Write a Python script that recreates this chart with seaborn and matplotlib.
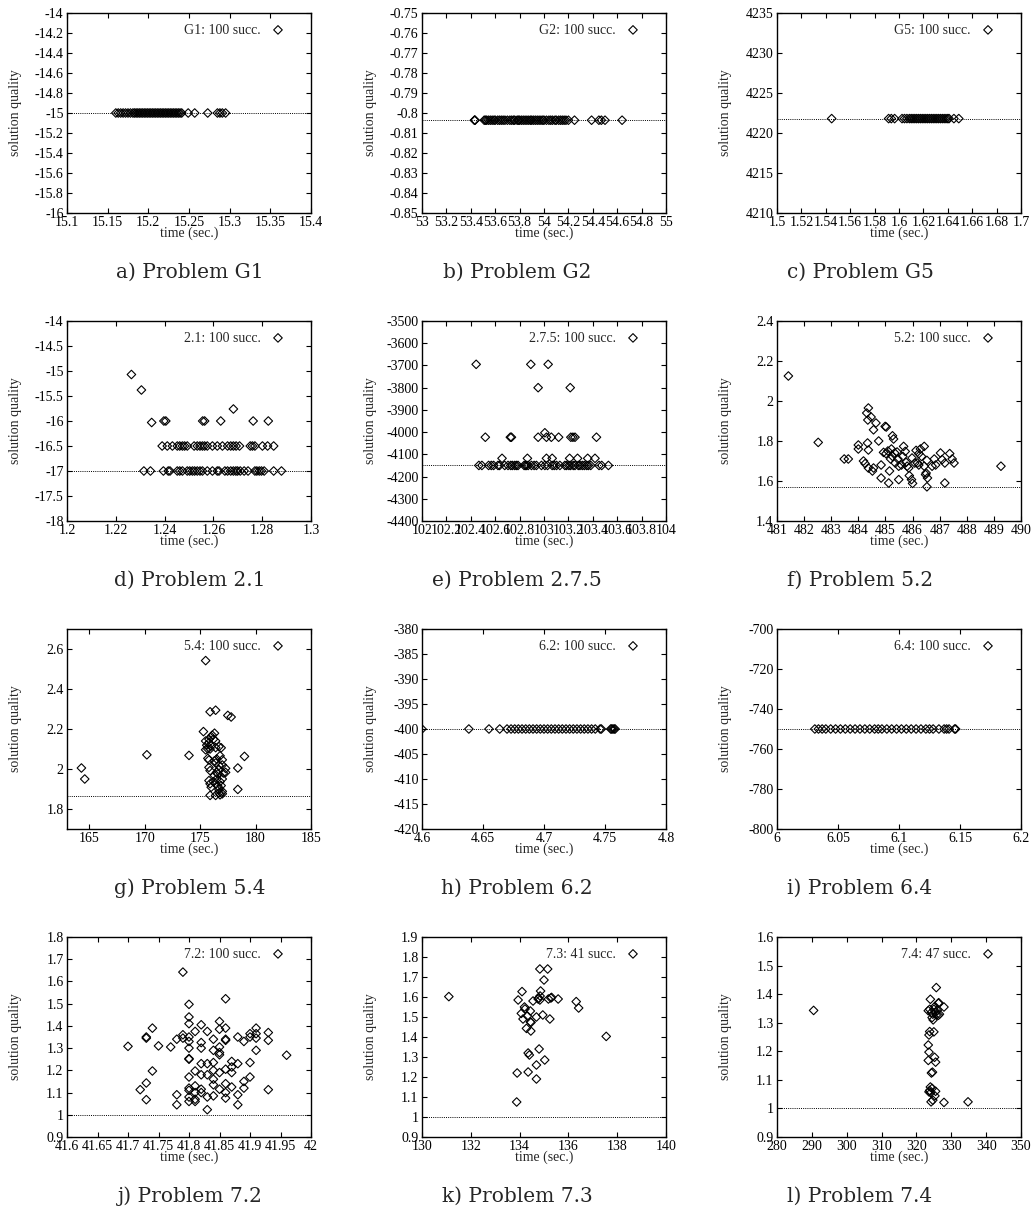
import numpy as np
import matplotlib
matplotlib.use('Agg')
import matplotlib.pyplot as plt
from matplotlib.ticker import FuncFormatter, MultipleLocator
import seaborn as sns

# ---------------- data ----------------
# a) G1 - all runs reach the optimum -15
G1_OPT = -15.0
G1_X = [15.160, 15.163, 15.166, 15.169, 15.172, 15.175, 15.178, 15.181, 15.183,
        15.185, 15.187, 15.189, 15.191, 15.193, 15.195, 15.197, 15.199, 15.201,
        15.203, 15.205, 15.207, 15.209, 15.211, 15.213, 15.215, 15.217, 15.219,
        15.221, 15.223, 15.225, 15.227, 15.229, 15.231, 15.233, 15.235, 15.237,
        15.239, 15.241, 15.249, 15.257, 15.273, 15.285, 15.288, 15.291, 15.295]

# b) G2
G2_OPT = -0.8036
G2_X = [53.430, 53.432, 53.435, 53.51, 53.52, 53.53, 53.545, 53.56, 53.575, 53.59,
        53.60, 53.62, 53.635, 53.65, 53.665, 53.68, 53.70, 53.72, 53.735, 53.75,
        53.76, 53.78, 53.79, 53.80, 53.815, 53.83, 53.845, 53.86, 53.875, 53.89,
        53.90, 53.915, 53.93, 53.945, 53.96, 53.975, 53.99, 54.00, 54.02, 54.04,
        54.055, 54.07, 54.09, 54.10, 54.12, 54.135, 54.15, 54.165, 54.18, 54.20,
        54.25, 54.39, 54.45, 54.47, 54.50, 54.64]

# c) G5
G5_OPT = 4221.8
G5_X = [1.5448, 1.5915, 1.5937, 1.5964, 1.6025, 1.6045, 1.6065, 1.6085, 1.6100,
        1.6115, 1.6130, 1.6145, 1.6160, 1.6175, 1.6190, 1.6205, 1.6220, 1.6235,
        1.6250, 1.6265, 1.6280, 1.6295, 1.6310, 1.6325, 1.6340, 1.6355, 1.6370,
        1.6385, 1.6400, 1.6410, 1.6450, 1.6490]

# d) 2.1
P21_OPT = -17.0
P21_X = [1.2264, 1.2305, 1.2347, 1.2397, 1.2405, 1.2556, 1.2564, 1.2630, 1.2682,
         1.2763, 1.2825,
         1.2390, 1.2411, 1.2432, 1.2452, 1.2462, 1.2473, 1.2482, 1.2493, 1.2521,
         1.2534, 1.2545, 1.2555, 1.2564, 1.2575, 1.2596, 1.2616, 1.2637, 1.2658,
         1.2671, 1.2682, 1.2693, 1.2707, 1.2751, 1.2760, 1.2770, 1.2801, 1.2822,
         1.2847,
         1.2315, 1.2342, 1.2395, 1.2415, 1.2422, 1.2452, 1.2462, 1.2473, 1.2493,
         1.2503, 1.2514, 1.2523, 1.2534, 1.2545, 1.2555, 1.2575, 1.2596, 1.2616,
         1.2623, 1.2647, 1.2658, 1.2671, 1.2682, 1.2692, 1.2699, 1.2710, 1.2726,
         1.2742, 1.2770, 1.2778, 1.2788, 1.2797, 1.2808, 1.2847, 1.2879]
P21_Y = [-15.07, -15.38, -16.03, -16.0, -16.0, -16.0, -16.0, -16.0, -15.76,
         -16.0, -16.0] + [-16.5] * 28 + [-17.0] * 35

# e) 2.7.5
P275_OPT = -4150.0
P275_X = [102.444, 102.892, 103.034, 102.952, 103.215,
          102.519, 102.724, 102.733, 102.952, 103.007, 103.020, 103.060, 103.120,
          103.220, 103.237, 103.254, 103.430,
          102.656, 102.864, 103.020, 103.067, 103.210, 103.275, 103.358, 103.418,
          102.466, 102.491, 102.546, 102.568, 102.587, 102.623, 102.636, 102.678,
          102.705, 102.727, 102.741, 102.760, 102.774, 102.787, 102.837, 102.848,
          102.856, 102.870, 102.897, 102.919, 102.938, 102.979, 103.007, 103.029,
          103.067, 103.084, 103.103, 103.130, 103.171, 103.185, 103.204, 103.218,
          103.240, 103.254, 103.281, 103.295, 103.314, 103.331, 103.350, 103.364,
          103.383, 103.451, 103.473, 103.528]
P275_Y = ([-3695, -3695, -3695, -3800, -3800] +
          [-4023, -4023, -4023, -4023, -4003, -4023, -4023, -4023, -4023, -4023,
           -4023, -4023] +
          [-4118] * 8 + [-4150] * 44)

# f) 5.2
P52_OPT = 1.571
P52_X = [481.42, 482.52, 483.48, 483.63, 484.00, 484.00, 484.31, 484.37, 484.35,
         484.47, 484.34, 484.37, 484.19, 484.25, 484.37, 484.52, 484.56, 484.56,
         484.65, 484.75, 484.84, 484.84, 484.99, 485.03, 484.93, 485.02, 485.09,
         485.12, 485.15, 485.19, 485.22, 485.26, 485.30, 485.26, 485.34, 485.36,
         485.43, 485.46, 485.49, 485.49, 485.59, 485.64, 485.67, 485.73, 485.76,
         485.80, 485.86, 485.88, 485.96, 486.00, 485.98, 486.08, 486.13, 486.18,
         486.23, 486.23, 486.29, 486.33, 486.43, 486.43, 486.48, 486.50, 486.55,
         486.53, 486.53, 486.72, 486.80, 486.85, 487.03, 487.09, 487.19, 487.19,
         487.37, 487.46, 487.53, 489.26]
P52_Y = [2.125, 1.793, 1.710, 1.710, 1.780, 1.760, 1.940, 1.965, 1.905,
         1.920, 1.790, 1.755, 1.700, 1.687, 1.665, 1.650, 1.665, 1.856,
         1.890, 1.800, 1.680, 1.615, 1.873, 1.870, 1.743, 1.737, 1.750,
         1.590, 1.650, 1.710, 1.760, 1.826, 1.810, 1.723, 1.740, 1.690,
         1.745, 1.710, 1.674, 1.607, 1.680, 1.723, 1.773, 1.748, 1.693,
         1.674, 1.665, 1.627, 1.607, 1.588, 1.715, 1.690, 1.753, 1.690,
         1.680, 1.737, 1.760, 1.723, 1.773, 1.674, 1.632, 1.640, 1.615,
         1.571, 1.703, 1.674, 1.710, 1.680, 1.740, 1.707, 1.690, 1.590,
         1.737, 1.710, 1.690, 1.674]

# g) 5.4
P54_OPT = 1.8634
P54_X = [164.3, 164.6, 170.2, 174.0, 175.5, 175.3, 175.9, 176.4, 177.5, 177.8,
         176.3, 178.4, 178.4, 179.0,
         175.5, 175.6, 175.5, 175.7, 175.8, 175.8, 176.0, 176.1, 176.2, 176.0,
         175.9, 176.4, 176.4, 176.7, 176.9, 175.7, 175.8, 175.8, 175.9, 176.3,
         176.4, 176.5, 176.7, 176.7, 176.6, 176.8, 177.0, 177.0, 177.1, 177.3,
         177.3, 175.8, 175.9, 176.0, 176.2, 176.4, 176.5, 176.6, 176.7, 176.8,
         176.9, 177.0, 177.0, 176.7, 176.4, 175.9, 176.8, 177.0, 176.3, 176.5]
P54_Y = [2.005, 1.950, 2.071, 2.068, 2.542, 2.187, 2.286, 2.294, 2.268, 2.260,
         2.179, 2.005, 1.898, 2.063,
         2.140, 2.119, 2.096, 2.100, 2.132, 2.149, 2.162, 2.169, 2.149, 2.116,
         2.100, 2.140, 2.107, 2.112, 2.106, 2.053, 2.045, 2.008, 1.992, 2.041,
         2.030, 2.050, 2.017, 1.997, 1.975, 2.066, 2.046, 2.020, 1.980, 2.003,
         1.983, 1.942, 1.926, 1.909, 1.937, 1.926, 1.950, 1.914, 1.897, 1.937,
         1.917, 1.888, 1.876, 1.881, 1.868, 1.868, 1.871, 1.950, 1.967, 1.983]

# h) 6.2
P62_OPT = -400.0
P62_X = [4.600, 4.6384, 4.6549, 4.6637, 4.6697, 4.673, 4.676, 4.679, 4.682,
         4.685, 4.688, 4.691, 4.694, 4.697, 4.700, 4.703, 4.706, 4.709, 4.712,
         4.715, 4.718, 4.721, 4.724, 4.727, 4.730, 4.733, 4.736, 4.739, 4.742,
         4.746, 4.747, 4.7547, 4.7555, 4.7565, 4.7575, 4.7583]

# i) 6.4
P64_OPT = -750.0
P64_X = [6.031, 6.034, 6.037, 6.040, 6.044, 6.048, 6.052, 6.056, 6.060, 6.064,
         6.068, 6.072, 6.076, 6.080, 6.083, 6.086, 6.090, 6.094, 6.098, 6.102,
         6.106, 6.110, 6.114, 6.118, 6.122, 6.125, 6.128, 6.1327, 6.137, 6.139,
         6.141, 6.1456, 6.1464]

# j) 7.2
P72_OPT = 1.0
P72_X = [41.70, 41.72, 41.73, 41.73, 41.73, 41.73, 41.74, 41.74, 41.75, 41.77,
         41.78, 41.78, 41.78, 41.79, 41.79, 41.79,
         41.80, 41.80, 41.80, 41.80, 41.80, 41.80, 41.80, 41.80, 41.80, 41.80,
         41.80, 41.80, 41.80,
         41.81, 41.81, 41.81, 41.81, 41.81, 41.81,
         41.82, 41.82, 41.82, 41.82, 41.82, 41.82, 41.82,
         41.83, 41.83, 41.83, 41.83, 41.83,
         41.84, 41.84, 41.84, 41.84, 41.84, 41.84, 41.84,
         41.85, 41.85, 41.85, 41.85, 41.85, 41.85, 41.85,
         41.86, 41.86, 41.86, 41.86, 41.86, 41.86, 41.86, 41.86,
         41.87, 41.87, 41.87, 41.87,
         41.88, 41.88, 41.88, 41.88,
         41.89, 41.89, 41.89,
         41.90, 41.90, 41.90, 41.90,
         41.91, 41.91, 41.91, 41.91,
         41.93, 41.93, 41.93, 41.96]
P72_Y = [1.308, 1.113, 1.350, 1.345, 1.143, 1.068, 1.390, 1.197, 1.310, 1.305,
         1.340, 1.090, 1.045, 1.642, 1.360, 1.345,
         1.497, 1.440, 1.410, 1.350, 1.330, 1.300, 1.253, 1.250, 1.170, 1.120,
         1.110, 1.080, 1.060,
         1.375, 1.197, 1.130, 1.100, 1.070, 1.060,
         1.405, 1.325, 1.300, 1.230, 1.180, 1.115, 1.100,
         1.375, 1.230, 1.180, 1.080, 1.023,
         1.340, 1.290, 1.235, 1.200, 1.160, 1.135, 1.085,
         1.420, 1.385, 1.305, 1.280, 1.270, 1.190, 1.115,
         1.522, 1.390, 1.340, 1.335, 1.205, 1.140, 1.100, 1.075,
         1.240, 1.215, 1.190, 1.125,
         1.350, 1.230, 1.090, 1.045,
         1.330, 1.150, 1.120,
         1.365, 1.350, 1.235, 1.170,
         1.390, 1.365, 1.345, 1.290,
         1.370, 1.335, 1.113, 1.268]

# k) 7.3
P73_OPT = 1.0
P73_X = [131.10, 133.88, 133.90, 133.94, 134.10, 134.07, 134.20, 134.22, 134.14,
         134.28, 134.32, 134.35, 134.35, 134.40, 134.44, 134.44, 134.47, 134.46,
         134.55, 134.69, 134.69, 134.69, 134.80, 134.83, 134.76, 134.78, 134.83,
         134.84, 134.86, 134.95, 135.00, 135.03, 135.15, 135.18, 135.24, 135.28,
         135.31, 135.58, 136.32, 136.42, 137.55]
P73_Y = [1.602, 1.075, 1.220, 1.585, 1.627, 1.518, 1.550, 1.540, 1.490,
         1.443, 1.505, 1.225, 1.320, 1.310, 1.530, 1.475, 1.473, 1.430,
         1.580, 1.500, 1.260, 1.190, 1.340, 1.740, 1.590, 1.595, 1.585,
         1.605, 1.630, 1.510, 1.685, 1.285, 1.740, 1.590, 1.490, 1.595,
         1.598, 1.590, 1.577, 1.545, 1.403]

# l) 7.4
P74_OPT = 1.0
P74_X = [290.5, 323.4, 323.6, 323.4, 323.6, 323.8, 323.4, 323.8, 324.0, 324.3,
         324.7, 325.0, 325.3, 324.5, 324.8, 325.5, 325.7, 326.0, 326.3, 326.4,
         326.3, 326.6, 327.9, 325.7, 325.0, 325.2, 325.5, 324.3, 324.6, 324.0,
         323.8, 324.1, 325.5, 325.3, 324.2, 324.7, 327.9, 334.8, 323.6, 324.5]
P74_Y = [1.343, 1.222, 1.197, 1.168, 1.257, 1.269, 1.342, 1.347, 1.382, 1.336,
         1.330, 1.347, 1.357, 1.318, 1.310, 1.336, 1.327, 1.344, 1.368, 1.370,
         1.326, 1.330, 1.355, 1.423, 1.268, 1.179, 1.162, 1.124, 1.127, 1.075,
         1.063, 1.055, 1.060, 1.044, 1.023, 1.029, 1.021, 1.023, 1.058, 1.070]

KEYS = ['G1: 100 succ.', 'G2: 100 succ.', 'G5: 100 succ.',
        '2.1: 100 succ.', '2.7.5: 100 succ.', '5.2: 100 succ.',
        '5.4: 100 succ.', '6.2: 100 succ.', '6.4: 100 succ.',
        '7.2: 100 succ.', '7.3: 41 succ.', '7.4: 47 succ.']
CAPTIONS = ['a) Problem G1', 'b) Problem G2', 'c) Problem G5',
            'd) Problem 2.1', 'e) Problem 2.7.5', 'f) Problem 5.2',
            'g) Problem 5.4', 'h) Problem 6.2', 'i) Problem 6.4',
            'j) Problem 7.2', 'k) Problem 7.3', 'l) Problem 7.4']
# (xmin, xmax, xstep), (ymin, ymax, ystep)
XRANGES = [(15.1, 15.4, 0.05), (53, 55, 0.2), (1.5, 1.7, 0.02),
           (1.2, 1.3, 0.02), (102, 104, 0.2), (481, 490, 1),
           (163, 185, 5), (4.6, 4.8, 0.05), (6, 6.2, 0.05),
           (41.6, 42, 0.05), (130, 140, 2), (280, 350, 10)]
YRANGES = [(-16, -14, 0.2), (-0.85, -0.75, 0.01), (4210, 4235, 5),
           (-18, -14, 0.5), (-4400, -3500, 100), (1.4, 2.4, 0.2),
           (1.7, 2.7, 0.2), (-420, -380, 5), (-800, -700, 20),
           (0.9, 1.8, 0.1), (0.9, 1.9, 0.1), (0.9, 1.6, 0.1)]

series = [
    (G1_X, [G1_OPT] * len(G1_X), G1_OPT),
    (G2_X, [G2_OPT] * len(G2_X), G2_OPT),
    (G5_X, [G5_OPT] * len(G5_X), G5_OPT),
    (P21_X, P21_Y, P21_OPT),
    (P275_X, P275_Y, P275_OPT),
    (P52_X, P52_Y, P52_OPT),
    (P54_X, P54_Y, P54_OPT),
    (P62_X, [P62_OPT] * len(P62_X), P62_OPT),
    (P64_X, [P64_OPT] * len(P64_X), P64_OPT),
    (P72_X, P72_Y, P72_OPT),
    (P73_X, P73_Y, P73_OPT),
    (P74_X, P74_Y, P74_OPT),
]

# ---------------- style ----------------
sns.set_theme(style='ticks')
plt.rcParams['font.family'] = ['Liberation Serif', 'DejaVu Serif']
plt.rcParams.update({
    'xtick.direction': 'in', 'ytick.direction': 'in',
    'xtick.top': True, 'ytick.right': True,
    'xtick.major.size': 3.5, 'ytick.major.size': 3.5,
    'xtick.major.width': 0.8, 'ytick.major.width': 0.8,
    'xtick.color': 'black', 'ytick.color': 'black',
    'axes.edgecolor': 'black', 'axes.linewidth': 1.0,
    'xtick.labelsize': 10, 'ytick.labelsize': 10,
})

W, H = 1032, 1212
fig = plt.figure(figsize=(W / 100, H / 100), dpi=100)

col_left = [67, 422, 777]
row_top = [13, 321, 629, 937]
cap_x = [190, 517, 860]
aw, ah = 244, 200
fmt = FuncFormatter(lambda v, p: f'{v:g}')

for i, (xs, ys, opt) in enumerate(series):
    r, c = divmod(i, 3)
    l, t = col_left[c], row_top[r]
    ax = fig.add_axes([l / W, 1 - (t + ah) / H, aw / W, ah / H])

    ax.axhline(opt, color='black', lw=0.7, ls=(0, (1, 1.2)), zorder=1)
    sns.scatterplot(x=xs, y=ys, ax=ax, marker='D', s=19, color='black',
                    facecolor='none', edgecolor='black', linewidth=0.8,
                    label=KEYS[i], zorder=3)

    x0, x1, xs_ = XRANGES[i]
    y0, y1, ys_ = YRANGES[i]
    ax.set_xlim(x0, x1)
    ax.set_ylim(y0, y1)
    ax.xaxis.set_major_locator(MultipleLocator(xs_))
    ax.yaxis.set_major_locator(MultipleLocator(ys_))
    ax.xaxis.set_major_formatter(fmt)
    ax.yaxis.set_major_formatter(fmt)
    ax.tick_params(pad=2.5)

    ax.set_xlabel('time (sec.)', fontsize=10)
    ax.set_ylabel('solution quality', fontsize=10)
    ax.xaxis.set_label_coords(0.5, -0.068)
    ax.yaxis.set_label_coords(-0.185, 0.5)

    ax.legend(loc='upper right', bbox_to_anchor=(0.933, 0.975),
              borderaxespad=0, frameon=False, markerfirst=False,
              fontsize=10, handlelength=1.6, handletextpad=0.45,
              scatterpoints=1)

    fig.text(cap_x[c] / W, 1 - (t + 259) / H, CAPTIONS[i],
             ha='center', va='center', fontsize=14.5, family='DejaVu Serif')

fig.savefig('out.png', dpi=100)
